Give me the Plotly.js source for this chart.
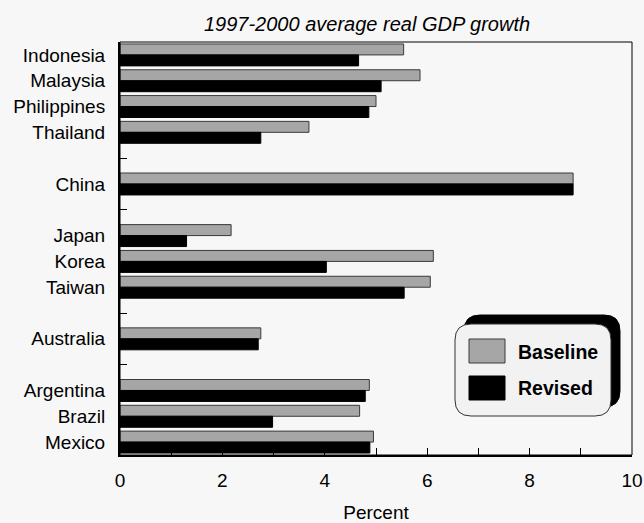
<!DOCTYPE html>
<html>
<head>
<meta charset="utf-8">
<script src="https://cdn.plot.ly/plotly-3.0.1.min.js"></script>
<style>
  html, body { margin: 0; padding: 0; background: #f7f7f7; }
  #chart { width: 644px; height: 523px; }
</style>
</head>
<body>
<div id="chart"></div>
<script>
// Rows from top to bottom; empty names are spacer rows between regions.
const categories = ['Indonesia', 'Malaysia', 'Philippines', 'Thailand', '',
  'China', '', 'Japan', 'Korea', 'Taiwan', '', 'Australia', '',
  'Argentina', 'Brazil', 'Mexico'];
const seriesNames = ['Baseline', 'Revised'];
const baseline = [5.54, 5.86, 5.00, 3.69, null, 8.85, null, 2.17, 6.12, 6.06, null, 2.75, null, 4.87, 4.68, 4.95];
const revised  = [4.66, 5.10, 4.86, 2.75, null, 8.85, null, 1.30, 4.03, 5.55, null, 2.70, null, 4.79, 2.98, 4.88];
const xTickValues = [0, 1, 2, 3, 4, 5, 6, 7, 8, 9, 10];
const xTickLabels = ['0', '', '2', '', '4', '', '6', '', '8', '', '10'];

const colors = { base: '#a6a6a6', baseLine: '#3a3a3a', rev: '#000000' };

const rowPos = categories.map((c, i) => i);
const labelPos = rowPos.filter(i => categories[i] !== '');
const labelText = labelPos.map(i => categories[i]);
const gapPos = rowPos.filter(i => categories[i] === '');

const W = 644, H = 523;
const M = { l: 120, r: 12, t: 42, b: 68 };
const PW = W - M.l - M.r, PH = H - M.t - M.b;
// pixel -> paper fractions (for the legend decoration)
const px = x => (x - M.l) / PW;
const py = y => (H - M.b - y) / PH;

function roundRect(x0, y0, x1, y1, r) {
  const P = (x, y) => px(x).toFixed(5) + ',' + py(y).toFixed(5);
  return 'M' + P(x0 + r, y0) + ' L' + P(x1 - r, y0) + ' Q' + P(x1, y0) + ' ' + P(x1, y0 + r) +
    ' L' + P(x1, y1 - r) + ' Q' + P(x1, y1) + ' ' + P(x1 - r, y1) +
    ' L' + P(x0 + r, y1) + ' Q' + P(x0, y1) + ' ' + P(x0, y1 - r) +
    ' L' + P(x0, y0 + r) + ' Q' + P(x0, y0) + ' ' + P(x0 + r, y0) + ' Z';
}

const traces = [
  {
    type: 'bar', orientation: 'h', name: seriesNames[0],
    x: baseline, y: rowPos,
    marker: { color: colors.base, line: { color: colors.baseLine, width: 1 } },
    showlegend: false, hoverinfo: 'x+name'
  },
  {
    type: 'bar', orientation: 'h', name: seriesNames[1],
    x: revised, y: rowPos,
    marker: { color: colors.rev, line: { color: colors.rev, width: 1 } },
    showlegend: false, hoverinfo: 'x+name'
  }
];

const font = { family: '"Liberation Sans", Arial, sans-serif', size: 19, color: '#000' };

// legend box geometry (pixels)
const lg = { x0: 455, y0: 324, x1: 611, y1: 416, r: 16, dx: 9, dy: -9 };

const shapes = [
  // plot frame
  { type: 'rect', xref: 'paper', yref: 'paper', x0: 0, x1: 1, y0: 0, y1: 1,
    line: { color: '#000', width: 1 }, layer: 'above' },
  // legend shadow + box
  { type: 'path', xref: 'paper', yref: 'paper', layer: 'above',
    path: roundRect(lg.x0 + lg.dx, lg.y0 + lg.dy, lg.x1 + lg.dx, lg.y1 + lg.dy, lg.r),
    fillcolor: '#000', line: { color: '#000', width: 1 } },
  { type: 'path', xref: 'paper', yref: 'paper', layer: 'above',
    path: roundRect(lg.x0, lg.y0, lg.x1, lg.y1, lg.r),
    fillcolor: '#f2f2f2', line: { color: '#333', width: 1 } },
  // legend swatches
  { type: 'rect', xref: 'paper', yref: 'paper', layer: 'above',
    x0: px(469), x1: px(505), y0: py(339), y1: py(363),
    fillcolor: colors.base, line: { color: colors.baseLine, width: 1 } },
  { type: 'rect', xref: 'paper', yref: 'paper', layer: 'above',
    x0: px(469), x1: px(505), y0: py(376), y1: py(400),
    fillcolor: colors.rev, line: { color: colors.rev, width: 1 } }
];

const legendFont = Object.assign({}, font, { size: 19.5 });
const annotations = [
  { xref: 'paper', yref: 'paper', x: px(516), y: py(352), xanchor: 'left', yanchor: 'middle',
    text: '<b>' + seriesNames[0] + '</b>', showarrow: false, font: legendFont },
  { xref: 'paper', yref: 'paper', x: px(516), y: py(388), xanchor: 'left', yanchor: 'middle',
    text: '<b>' + seriesNames[1] + '</b>', showarrow: false, font: legendFont }
];

const layout = {
  width: W, height: H,
  margin: M,
  paper_bgcolor: '#f7f7f7', plot_bgcolor: '#f7f7f7',
  font: font,
  showlegend: false,
  barmode: 'group', bargap: 0.15, bargroupgap: 0,
  title: {
    text: '<i>1997-2000 average real GDP growth</i>',
    font: Object.assign({}, font, { size: 20 }),
    x: px(367), xref: 'paper', xanchor: 'center', y: 1 - 24 / H, yanchor: 'middle'
  },
  xaxis: {
    range: [0, 10], tickvals: xTickValues, ticktext: xTickLabels,
    ticks: 'inside', ticklen: 7, tickwidth: 1, tickcolor: '#000',
    showline: true, linecolor: '#000', linewidth: 2,
    showgrid: false, zeroline: false, fixedrange: true,
    ticklabelstandoff: 7,
    title: { text: 'Percent', font: font, standoff: 23 }
  },
  yaxis: {
    range: [15.5, -0.5], tickvals: labelPos, ticktext: labelText,
    ticks: '', showline: true, linecolor: '#000', linewidth: 2,
    showgrid: false, zeroline: false, fixedrange: true,
    ticklabelstandoff: 9
  },
  yaxis2: {
    overlaying: 'y', anchor: 'x', side: 'left',
    range: [15.5, -0.5], tickvals: gapPos, showticklabels: false,
    ticks: 'inside', ticklen: 7, tickwidth: 1, tickcolor: '#000',
    showline: false, showgrid: false, zeroline: false, fixedrange: true
  },
  shapes: shapes,
  annotations: annotations
};

// empty trace on the second y axis so its spacer ticks are drawn
traces.push({ type: 'scatter', x: [null], y: [null], yaxis: 'y2', showlegend: false, hoverinfo: 'skip' });

Plotly.newPlot('chart', traces, layout, { displayModeBar: false, staticPlot: true });
</script>
</body>
</html>
